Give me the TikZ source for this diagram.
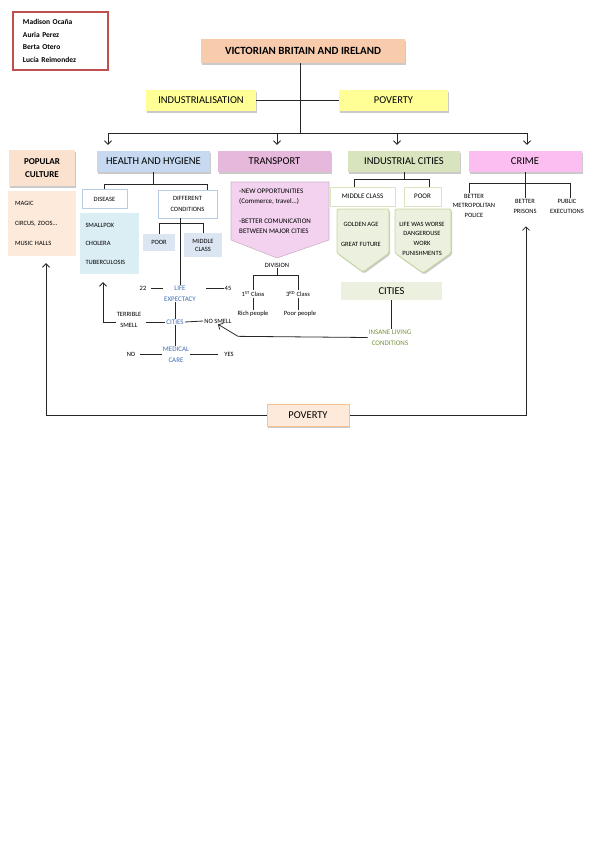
\documentclass[tikz,border=0pt]{standalone}
\usepackage{fontspec}
\setmainfont{Carlito}
\usetikzlibrary{arrows.meta,shadows,calc}
\definecolor{titlepeach}{RGB}{248,203,173}
\definecolor{popcult}{RGB}{251,226,207}
\definecolor{lightpeach}{RGB}{253,234,219}
\definecolor{peachline}{RGB}{250,192,143}
\definecolor{hiyellow}{RGB}{255,255,150}
\definecolor{healthblue}{RGB}{198,217,241}
\definecolor{paleblue}{RGB}{219,238,244}
\definecolor{greyblue}{RGB}{220,230,242}
\definecolor{edgeblue}{RGB}{184,204,228}
\definecolor{transpink}{RGB}{229,184,220}
\definecolor{palepink}{RGB}{242,210,238}
\definecolor{indgreen}{RGB}{215,228,189}
\definecolor{palegreen}{RGB}{235,241,222}
\definecolor{edgegreen}{RGB}{195,214,155}
\definecolor{crimepink}{RGB}{252,190,240}
\definecolor{namered}{RGB}{192,80,77}
\definecolor{textblue}{RGB}{62,108,180}
\definecolor{textgreen}{RGB}{118,146,60}

\begin{document}
\begin{tikzpicture}[x=1pt, y=-1pt, every node/.style={font=\fontsize{6.5}{8}\selectfont},
    box/.style={inner sep=0pt, align=center},
    boxshadow/.style={drop shadow={shadow xshift=1.2pt, shadow yshift=-1.6pt, opacity=0.35, fill=black!60}},
    hdr/.style={box, boxshadow, minimum width=113pt, minimum height=21pt, font=\fontsize{10.5}{12}\selectfont},
    lbl/.style={inner sep=1pt, align=center},
    link/.style={draw=black!85, line width=0.8pt},
    arr/.style={link, -{Straight Barb[length=3.5pt,width=7pt]}},
    greenpent/.style={fill=palegreen, draw=edgegreen, line width=0.8pt, rounded corners=1.5pt, boxshadow}]
    \useasboundingbox (0,0) rectangle (599,848);

    % authors
    \node[box, draw=namered, line width=1.4pt, minimum width=95pt, minimum height=58pt, text width=75pt, align=left, font=\fontsize{7.5}{12.7}\selectfont\bfseries] (names) at (60.5,41) {Madison Ocaña\\Auria Perez\\Berta Otero\\Lucía Reimondez};

    % title and causes
    \node[hdr, fill=titlepeach, minimum width=204pt, minimum height=24pt, font=\fontsize{11}{12}\selectfont\bfseries] (title) at (303,51) {VICTORIAN BRITAIN AND IRELAND};
    \node[hdr, fill=hiyellow, minimum width=110pt] (ind) at (201,100.5) {INDUSTRIALISATION};
    \node[hdr, fill=hiyellow, minimum width=109pt] (pov) at (393.5,100.5) {POVERTY};
    \draw[link] (ind.east) -- (pov.west);
    \draw[link] ([xshift=-3pt]title.south) -- ++(0,-70pt) coordinate (hub);

    % main topics
    \node[box, boxshadow, fill=popcult, minimum width=66pt, minimum height=36pt, font=\fontsize{9}{13.5}\selectfont\bfseries] (popc) at (42,168) {POPULAR\\CULTURE};
    \node[hdr, fill=healthblue] (hh) at (153.5,161.5) {HEALTH AND HYGIENE};
    \node[hdr, fill=transpink] (tr) at (274.5,161.5) {TRANSPORT};
    \node[hdr, fill=indgreen, minimum width=112pt] (ic) at (404,161.5) {INDUSTRIAL CITIES};
    \node[hdr, fill=crimepink] (cr) at (525,161.5) {CRIME};
    \foreach \t/\dx in {hh/-45.5, tr/2.5, ic/-7, cr/2}
        \draw[arr] (hub) -| ([xshift=\dx pt, yshift=6pt]\t.north);

    % popular culture
    \node[box, fill=lightpeach, minimum width=68pt, minimum height=65pt, text width=54pt, align=left, font=\fontsize{6.5}{20}\selectfont] (fun) at (42,223.5) {MAGIC\\CIRCUS, ZOOS...\\MUSIC HALLS};

    % health and hygiene
    \node[box, draw=edgeblue, line width=0.8pt, fill=white, minimum width=45pt, minimum height=19pt] (dis) at (104.5,199) {DISEASE};
    \node[box, draw=edgeblue, line width=0.8pt, fill=white, minimum width=59pt, minimum height=28pt, font=\fontsize{6.5}{11}\selectfont] (dc) at (187.5,204) {DIFFERENT\\CONDITIONS};
    \draw[link] (hh.south) -- ++(0,-12pt) coordinate (hhfork);
    \draw[link] (dis.north) |- (hhfork) -| ([xshift=19.5pt]dc.north);
    \node[box, fill=paleblue, minimum width=59pt, minimum height=61pt, text width=48pt, align=left, font=\fontsize{6.5}{18.5}\selectfont] (ill) at (109.5,243.5) {SMALLPOX\\CHOLERA\\TUBERCULOSIS};
    \node[box, fill=greyblue, minimum width=32pt, minimum height=17pt] (dpoor) at (159,242.5) {POOR};
    \node[box, fill=greyblue, minimum width=38pt, minimum height=24pt, font=\fontsize{6.5}{8}\selectfont] (dmid) at (203,245) {MIDDLE\\CLASS};
    \draw[link] (dpoor.north) |- ([yshift=-5pt]dc.south) -| (dmid.north);

    \node[lbl, text=textblue, font=\fontsize{7}{11}\selectfont] (le) at (180,293.5) {LIFE\\EXPECTACY};
    \draw[link] (dc.south -| le.north) -- (le.north);
    \node[lbl] (n22) at (143,288) {22};
    \node[lbl] (n45) at (228,288) {45};
    \draw[link, shorten <=4pt] (n22.east) -- (n22.east -| le.west);
    \draw[link, shorten >=9pt] (n45.west) -- (n45.west -| le.east);

    \node[lbl, text=textblue, font=\fontsize{7}{9}\selectfont] (city) at (175,322) {CITIES};
    \draw[link] (city.north) -- (city.north |- le.south);
    \node[lbl, font=\fontsize{6.5}{11}\selectfont] (smell) at (129,319.5) {TERRIBLE\\SMELL};
    \node[lbl] (nosmell) at (218,321) {NO SMELL};
    \draw[link, shorten <=4pt] (smell.east |- city.west) -- (city.west);
    \draw[link] (city.east) -- (nosmell.west);
    \draw[arr] (smell.west |- city.west) -| ([xshift=-6.5pt, yshift=-8pt]ill.south);

    \node[lbl, text=textblue, font=\fontsize{7}{11}\selectfont] (care) at (176,354.5) {MEDICAL\\CARE};
    \draw[link] (city.south) -- (city.south |- care.north);
    \node[lbl] (no) at (131,354) {NO};
    \node[lbl] (yes) at (229,354) {YES};
    \draw[link, shorten <=4pt] (no.east) -- (no.east -| care.west);
    \draw[link, shorten <=5pt] (yes.west) -- (yes.west -| care.east);

    % transport
    \draw[fill=palepink, draw=palepink!85!black, line width=0.6pt] (231,182) -- (329,182) -- (329,240) -- (277,258) -- (231,240) -- cycle;
    \node[lbl, anchor=west, align=left, font=\fontsize{7}{10}\selectfont] (trnew) at (238,197) {-NEW OPPORTUNITIES\\(Commerce, travel...)};
    \node[lbl, anchor=west, align=left, font=\fontsize{7}{10}\selectfont] (trcom) at (238,226) {-BETTER COMUNICATION\\BETWEEN MAJOR CITIES};
    \node[lbl] (div) at (277,265) {DIVISION};
    \node[lbl] (first) at (253,294) {1\textsuperscript{ST} Class};
    \node[lbl] (third) at (298,294) {3\textsuperscript{RD} Class};
    \draw[link] (div.south) -- ++(0,-7pt);
    \draw[link] (first.north) |- ([yshift=-7pt]div.south) -| (third.north);
    \node[lbl] (rich) at (253,314) {Rich people};
    \node[lbl] (poorp) at (300,314) {Poor people};
    \draw[link] (first.south) -- (first.south |- rich.north);
    \draw[link] (third.south) -- (third.south |- poorp.north);

    % industrial cities
    \node[box, draw=indgreen, line width=0.8pt, fill=white, minimum width=65pt, minimum height=19pt, font=\fontsize{7}{8}\selectfont] (mc) at (362.5,196.5) {MIDDLE CLASS};
    \node[box, draw=indgreen, line width=0.8pt, fill=white, minimum width=37pt, minimum height=19pt, font=\fontsize{7}{8}\selectfont] (poor) at (422.5,196.5) {POOR};
    \draw[link] (ic.south) -- ++(0,-7pt) coordinate (icfork);
    \draw[link] ([xshift=-8.5pt]mc.north) |- (icfork) -| ([xshift=6.5pt]poor.north);
    \draw[greenpent] (337,209) -- (389,209) -- (389,253) -- (363,272) -- (337,253) -- cycle;
    \draw[greenpent] (395,209) -- (451,209) -- (451,253) -- (423,273) -- (395,253) -- cycle;
    \node[lbl, font=\fontsize{6.5}{20}\selectfont] (golden) at (361,234) {GOLDEN AGE\\GREAT FUTURE};
    \node[lbl, font=\fontsize{6.5}{9.7}\selectfont] (worse) at (422,238.5) {LIFE WAS WORSE\\DANGEROUSE\\WORK\\PUNISHMENTS};
    \node[box, fill=palegreen, minimum width=101pt, minimum height=18pt, font=\fontsize{10.5}{12}\selectfont] (cities) at (391.5,291) {CITIES};
    \node[lbl, text=textgreen, font=\fontsize{7}{11}\selectfont] (insane) at (390,337.5) {INSANE LIVING\\CONDITIONS};
    \draw[link] (cities.south) -- (cities.south |- insane.north);
    \draw[arr] (insane.west) -- ([xshift=20pt, yshift=-12pt]nosmell.south) -- (nosmell.south);

    % crime
    \draw[link] (cr.south) -- ++(0,-11pt) coordinate (crfork);
    \node[lbl, font=\fontsize{6.5}{9.5}\selectfont] (police) at (474,205.5) {BETTER\\METROPOLITAN\\POLICE};
    \node[lbl, font=\fontsize{6.5}{10}\selectfont] (prisons) at (525,206) {BETTER\\PRISONS};
    \node[lbl, font=\fontsize{6.5}{10}\selectfont] (exec) at (567,206) {PUBLIC\\EXECUTIONS};
    \draw[link] ([xshift=-5pt]police.north) |- (crfork) -| ([xshift=3pt]exec.north);
    \draw[link] (crfork) -- (crfork |- prisons.north);

    % poverty at the bottom
    \node[box, boxshadow, fill=lightpeach, draw=peachline, line width=1pt, minimum width=82pt, minimum height=22pt, font=\fontsize{10.5}{12}\selectfont] (pov2) at (308,415) {POVERTY};
    \draw[arr] (pov2.west) -| ([xshift=4pt, yshift=-7pt]fun.south);
    \draw[arr] (pov2.east) -| ([xshift=1pt, yshift=-12pt]prisons.south);
\end{tikzpicture}
\end{document}
